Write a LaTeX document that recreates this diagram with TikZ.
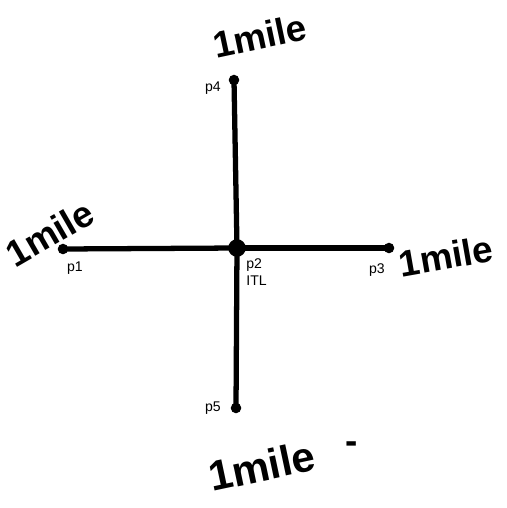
\documentclass[tikz,border=0pt]{standalone}
\usepackage{fontspec}
\setmainfont{Liberation Sans}
\begin{document}
\begin{tikzpicture}[x=0.02cm,y=-0.02cm,
  road/.style={line width=3pt,line cap=round},
  endpt/.style={circle,fill=black,inner sep=0pt,minimum size=6pt},
  hub/.style={circle,fill=black,inner sep=0pt,minimum size=10pt},
  lbl/.style={font=\fontsize{8}{9}\selectfont,inner sep=0pt},
  hand/.style={font=\fontsize{21}{23}\selectfont\bfseries,inner sep=0pt}]
\useasboundingbox (0,0) rectangle (507,508);
\node[hub] (p2) at (237,248) {};
\node[endpt] (p1) at (63,249) {};
\node[endpt] (p3) at (389,248) {};
\node[endpt] (p4) at (234,80) {};
\node[endpt] (p5) at (236,408) {};
\draw[road] (p2.center) -- (p1.center);
\draw[road] (p2.center) -- (p3.center);
\draw[road] (p2.center) -- (p4.center);
\draw[road] (p2.center) -- (p5.center);
\node[lbl] (l4) at (213,88) {p4};
\node[lbl] (l1) at (75,268) {p1};
\node[lbl,anchor=west] (l2) at (246,265) {p2};
\node[lbl,anchor=west] (itl) at (246,281) {ITL};
\node[lbl] (l3) at (377,270) {p3};
\node[lbl] (l5) at (213,408) {p5};
\node[hand,rotate=12] (m4) at (260,36) {1mile};
\node[hand,rotate=30] (m1) at (50,233) {1mile};
\node[hand,rotate=10] (m3) at (446,256) {1mile};
\node[hand,rotate=12,font=\fontsize{24}{26}\selectfont\bfseries] (m5) at (262,466) {1mile};
\node[hand] (dash) at (352,448) {-};
\end{tikzpicture}
\end{document}
